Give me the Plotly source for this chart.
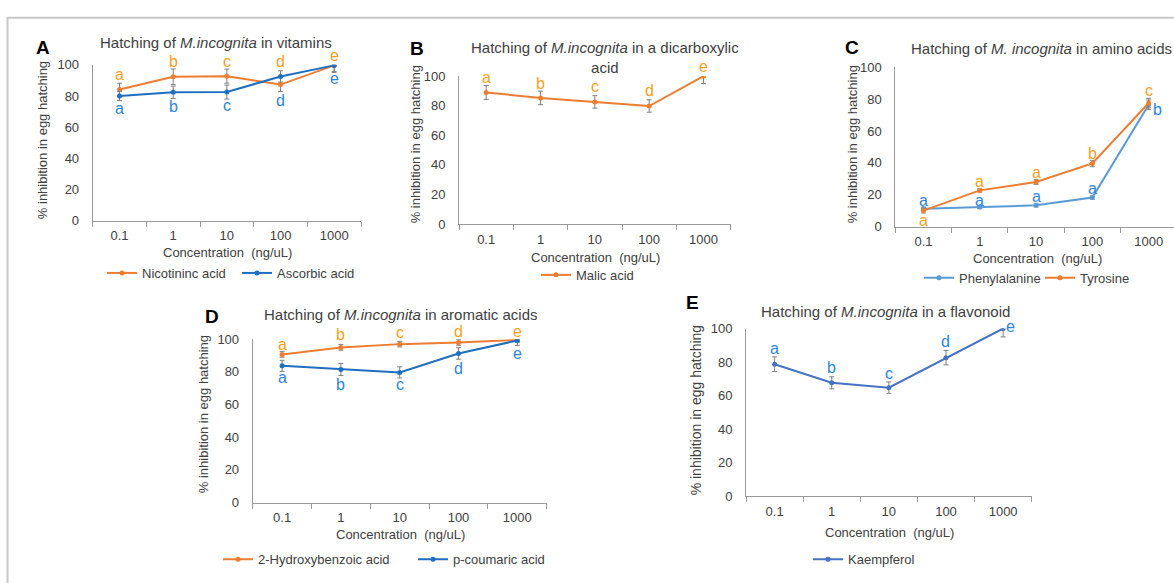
import plotly.graph_objects as go

W, H = 1174, 583

# Concentrations (ng/uL) shared by every panel
CONC = ["0.1", "1", "10", "100", "1000"]

# A: vitamins
nicotinic = [84.2, 92.3, 92.7, 87.3, 99.6]
nicotinic_err = [4.0, 5.0, 4.5, 4.5, 4.5]
ascorbic = [80.0, 82.3, 82.5, 92.5, 99.6]
ascorbic_err = [3.0, 4.0, 4.5, 3.6, 4.0]
nicotinic_grp = ["a", "b", "c", "d", "e"]
ascorbic_grp = ["a", "b", "c", "d", "e"]

# B: dicarboxylic acid
malic = [89.0, 85.3, 82.6, 79.8, 100.0]
malic_err = [4.7, 4.6, 4.2, 4.2, 5.0]
malic_grp = ["a", "b", "c", "d", "e"]

# C: amino acids
phenylalanine = [11.2, 12.2, 13.3, 18.2, 76.5]
phenylalanine_err = [1.0, 1.0, 1.0, 1.0, 3.0]
tyrosine = [10.0, 22.7, 28.0, 39.6, 77.6]
tyrosine_err = [1.5, 1.0, 1.5, 2.0, 3.0]
phenylalanine_grp = ["a", "a", "a", "a", "b"]
tyrosine_grp = ["a", "a", "a", "b", "c"]

# D: aromatic acids
hydroxybenzoic = [90.7, 95.0, 97.0, 98.0, 99.6]
hydroxybenzoic_err = [1.7, 1.7, 1.7, 1.7, 1.5]
coumaric = [83.7, 81.5, 79.7, 91.3, 99.2]
coumaric_err = [3.4, 3.7, 3.4, 3.5, 3.0]
hydroxybenzoic_grp = ["a", "b", "c", "d", "e"]
coumaric_grp = ["a", "b", "c", "d", "e"]

# E: flavonoid
kaempferol = [78.7, 67.6, 64.7, 82.6, 100.0]
kaempferol_err = [4.4, 3.6, 3.4, 4.3, 5.0]
kaempferol_grp = ["a", "b", "c", "d", "e"]

FONT = "Liberation Sans, Arial, sans-serif"
TXT = "#404040"
AXC = "#9a9a9a"
ORANGE = "#ED7D31"
BLUE = "#1F6FC0"
LBLUE = "#5B9BD5"
KBLUE = "#4472C4"
LET_OR = "#F9A11B"
LET_BL = "#2E86DE"


def px_x(v):
    return v / W


def px_y(v):
    return 1 - v / H


fig = go.Figure()

# panel geometry in pixels: x-left, x-right, y-top(100), y-bottom(0)
panels = {
    1: dict(x0=92.7, x1=361.0, yt=59.3, yb=219.3, xr=[-0.5, 4.5]),
    2: dict(x0=459.0, x1=730.7, yt=71.0, yb=222.7, xr=[-0.5, 4.5]),
    3: dict(x0=895.3, x1=1174.0, yt=62.0, yb=225.3, xr=[-0.5, 4.45]),
    4: dict(x0=252.7, x1=546.7, yt=341.0, yb=508.7, xr=[-0.5, 4.5]),
    5: dict(x0=746.0, x1=1031.7, yt=330.0, yb=502.0, xr=[-0.5, 4.5]),
}

for i, p in panels.items():
    sx = "" if i == 1 else str(i)
    fig.update_layout(**{
        f"xaxis{sx}": dict(
            domain=[px_x(p["x0"]), px_x(p["x1"])], anchor=f"y{sx}",
            type="category", categoryorder="array", categoryarray=CONC,
            range=p["xr"], showline=True, linecolor=AXC, linewidth=1,
            ticks="outside", tickson="boundaries", ticklen=5, tickcolor=AXC,
            showgrid=False, zeroline=False,
            tickfont=dict(family=FONT, size=13, color=TXT),
            ticklabelstandoff=3,
        ),
        f"yaxis{sx}": dict(
            domain=[px_y(p["yb"]), px_y(p["yt"])], anchor=f"x{sx}",
            range=[0, 100], dtick=20, showline=True, linecolor=AXC,
            linewidth=1, ticks="", showgrid=False, zeroline=False,
            tickfont=dict(family=FONT, size=13, color=TXT),
            ticklabelstandoff=10,
        ),
    })


def add_series(i, name, vals, errs, color, legend):
    sx = "" if i == 1 else str(i)
    fig.add_trace(go.Scatter(
        x=CONC, y=vals, name=name, mode="lines+markers",
        xaxis=f"x{sx}", yaxis=f"y{sx}", legend=legend,
        line=dict(color=color, width=2),
        marker=dict(color=color, size=5),
        error_y=dict(type="data", array=errs, color="#808080",
                     thickness=1, width=2.5),
    ))


def add_letters(i, vals, grp, dy, color, dx=None):
    sx = "" if i == 1 else str(i)
    # category positions are given by index along the concentration axis
    for k, (v, g) in enumerate(zip(vals, grp)):
        fig.add_annotation(
            x=k, y=v, xref=f"x{sx}", yref=f"y{sx}", text=g,
            showarrow=False, yshift=dy[k],
            xshift=(dx[k] if dx else 0),
            font=dict(family=FONT, size=16, color=color),
        )


add_series(1, "Nicotininc acid", nicotinic, nicotinic_err, ORANGE, "legend")
add_series(1, "Ascorbic acid", ascorbic, ascorbic_err, BLUE, "legend")
add_series(2, "Malic acid", malic, malic_err, ORANGE, "legend2")
add_series(3, "Phenylalanine", phenylalanine, phenylalanine_err, LBLUE, "legend3")
add_series(3, "Tyrosine", tyrosine, tyrosine_err, ORANGE, "legend3")
add_series(4, "2-Hydroxybenzoic acid", hydroxybenzoic, hydroxybenzoic_err, ORANGE, "legend4")
add_series(4, "p-coumaric acid", coumaric, coumaric_err, BLUE, "legend4")
add_series(5, "Kaempferol", kaempferol, kaempferol_err, KBLUE, "legend5")

# significance letters, offsets in pixels from each point
add_letters(1, nicotinic, nicotinic_grp, [14.5, 15, 14.5, 23.5, 10], LET_OR)
add_letters(1, ascorbic, ascorbic_grp, [-13, -14, -13, -24, -13.5], LET_BL)
add_letters(2, malic, malic_grp, [14.5, 14, 15.5, 15.5, 10], LET_OR)
add_letters(3, phenylalanine, phenylalanine_grp, [8, 7, 8.5, 9, -4.5], LET_BL,
            dx=[0, 0, 0, 0, 9])
add_letters(3, tyrosine, tyrosine_grp, [-9.5, 8.5, 9.5, 10, 12.5], LET_OR)
add_letters(4, hydroxybenzoic, hydroxybenzoic_grp, [10, 12.5, 12, 10.5, 8.5], LET_OR)
add_letters(4, coumaric, coumaric_grp, [-11.5, -15.5, -12.5, -15, -12.5], LET_BL)
add_letters(5, kaempferol, kaempferol_grp, [15.5, 15.5, 14.5, 16.5, 2], LET_BL,
            dx=[0, 0, 0, 0, 7])


def paper_text(x, y, text, size, color=TXT, angle=0, xanchor="center", bold=False):
    fig.add_annotation(
        x=px_x(x), y=px_y(y), xref="paper", yref="paper", text=text,
        showarrow=False, textangle=angle, xanchor=xanchor, yanchor="middle",
        font=dict(family=FONT, size=size, color=color,
                  weight=("bold" if bold else "normal")),
    )


# panel titles
paper_text(216, 36, "Hatching of <i>M.incognita</i> in vitamins", 15)
paper_text(605, 52, "Hatching of <i>M.incognita</i> in a dicarboxylic<br>acid", 15)
paper_text(909, 43, "Hatching of <i>M. incognita</i> in amino acids", 15, xanchor="left")
paper_text(400, 316, "Hatching of <i>M.incognita</i> in aromatic acids", 15)
paper_text(885, 312.5, "Hatching of <i>M.incognita</i> in a flavonoid", 15)

# panel letters
for x, y, t in [(43, 42, "A"), (417, 43, "B"), (852, 42, "C"),
                (212, 318, "D"), (692, 303, "E")]:
    paper_text(x, y, t, 19, color="#000000", bold=True)

# axis titles
YT = "% inhibition in egg hatching"
XT = "Concentration  (ng/uL)"
for x, y, s in [(42.7, 137, 13), (415, 141, 13), (852, 141, 13),
                (203, 418, 13), (696, 414, 14)]:
    paper_text(x, y, YT, s, angle=-90)
for x, y in [(227, 252), (595, 257), (1037, 258), (400, 541), (889, 539)]:
    paper_text(x, y, XT, 13)

leg_common = dict(orientation="h", xanchor="left", yanchor="middle",
                  font=dict(family=FONT, size=13, color=TXT),
                  bgcolor="rgba(0,0,0,0)", itemwidth=30,
                  tracegroupgap=0)
fig.update_layout(
    legend=dict(x=px_x(102), y=px_y(273), entrywidth=90, **leg_common),
    legend2=dict(x=px_x(536), y=px_y(275), **leg_common),
    legend3=dict(x=px_x(919), y=px_y(278), entrywidth=76, **leg_common),
    legend4=dict(x=px_x(218), y=px_y(567), entrywidth=150, **leg_common),
    legend5=dict(x=px_x(808), y=px_y(567), **leg_common),
)

# outer frame
fig.add_shape(type="rect", xref="paper", yref="paper",
              x0=px_x(7.5), x1=1.2, y0=-0.2, y1=px_y(11),
              line=dict(color="#c8c8c8", width=2))

fig.update_layout(
    width=W, height=H, margin=dict(l=0, r=0, t=0, b=0),
    paper_bgcolor="white", plot_bgcolor="white", showlegend=True,
    font=dict(family=FONT, color=TXT),
)

fig.write_html("out.html")
